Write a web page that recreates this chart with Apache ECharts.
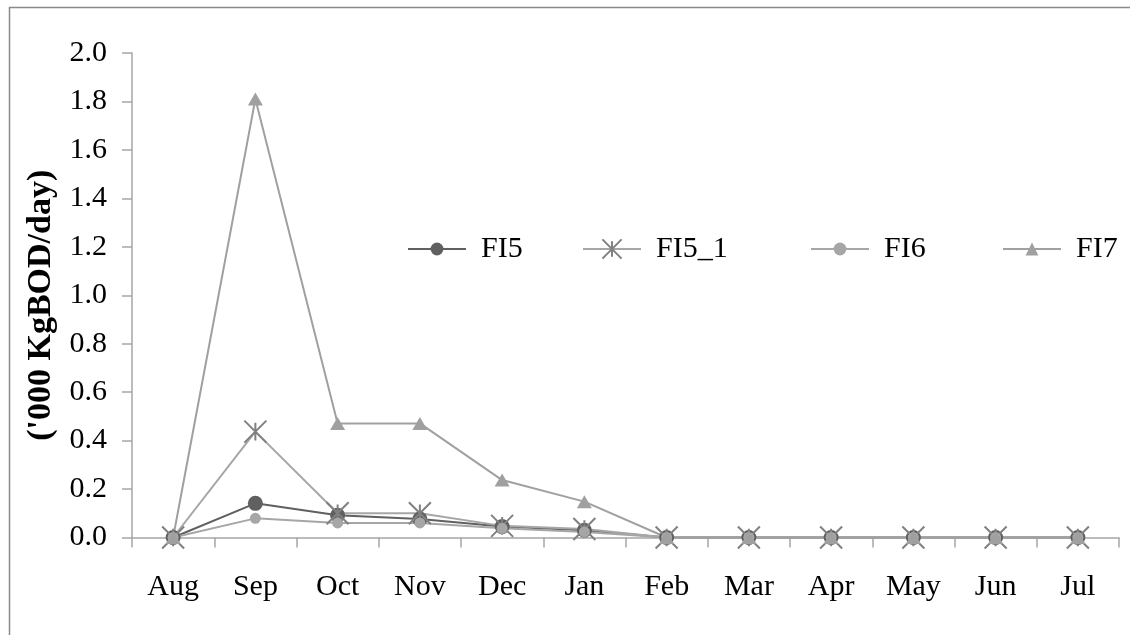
<!DOCTYPE html>
<html>
<head>
<meta charset="utf-8">
<script src="https://cdn.jsdelivr.net/npm/echarts@6/dist/echarts.min.js"></script>
<style>html,body{margin:0;padding:0;background:#fff;}#c{width:1130px;height:635px;}</style>
</head>
<body>
<div id="c"></div>
<script>
const categories = ['Aug','Sep','Oct','Nov','Dec','Jan','Feb','Mar','Apr','May','Jun','Jul'];
const FI5   = [0, 0.141, 0.092, 0.076, 0.045, 0.030, 0, 0, 0, 0, 0, 0];
const FI5_1 = [0, 0.437, 0.100, 0.100, 0.048, 0.035, 0, 0, 0, 0, 0, 0];
const FI6   = [0, 0.079, 0.060, 0.060, 0.038, 0.023, 0, 0, 0, 0, 0, 0];
const FI7   = [0, 1.810, 0.471, 0.471, 0.237, 0.148, 0, 0, 0, 0, 0, 0];
const seriesNames = ['FI5', 'FI5_1', 'FI6', 'FI7'];
const yTicks = { min: 0, max: 2, interval: 0.2 };
const yTitle = "('000 KgBOD/day)";

const FONT = "'Liberation Serif', 'Times New Roman', serif";
const legendLeft = [402, 577, 805, 997];
const legendItemH = [16, 24, 16, 16];

const chart = echarts.init(document.getElementById('c'), null, { renderer: 'canvas' });
chart.setOption({
  animation: false,
  backgroundColor: '#fff',
  graphic: [{
    type: 'rect', left: 7, top: 5, silent: true, z: -1,
    shape: { x: 0, y: 0, width: 1200, height: 700 },
    style: { fill: 'none', stroke: '#8a8a8a', lineWidth: 1.5 }
  }],
  textStyle: { fontFamily: FONT, color: '#000' },
  grid: { left: 132, right: 11, top: 53, bottom: 97.5, containLabel: false },
  legend: seriesNames.map((n, i) => ({
    left: legendLeft[i], top: 229, orient: 'horizontal',
    itemWidth: 58, itemHeight: legendItemH[i],
    textStyle: { fontFamily: FONT, fontSize: 30, color: '#000', padding: [0, 0, 0, 10] },
    data: [n]
  })),
  xAxis: {
    type: 'category', data: categories, boundaryGap: true,
    axisLine: { lineStyle: { color: '#a6a6a6', width: 1.5 } },
    axisTick: { show: true, alignWithLabel: false, length: 10, lineStyle: { color: '#a6a6a6', width: 1.5 } },
    axisLabel: { fontFamily: FONT, fontSize: 30, color: '#000', margin: 35 },
    splitLine: { show: false }
  },
  yAxis: {
    type: 'value', min: yTicks.min, max: yTicks.max, interval: yTicks.interval,
    name: yTitle, nameLocation: 'middle', nameRotate: 90, nameGap: 69,
    nameTextStyle: { fontFamily: FONT, fontSize: 34, fontWeight: 'bold', color: '#000',
      padding: [0, 20, 0, 0] },
    axisLine: { show: true, lineStyle: { color: '#a6a6a6', width: 1.5 } },
    axisTick: { show: true, length: 10, lineStyle: { color: '#a6a6a6', width: 1.5 } },
    axisLabel: { fontFamily: FONT, fontSize: 30, color: '#000', margin: 25,
      formatter: v => v.toFixed(1) },
    splitLine: { show: false }
  },
  series: [
    { name: 'FI5', type: 'line', data: FI5, symbol: 'circle', symbolSize: 15,
      lineStyle: { color: '#606060', width: 2 }, itemStyle: { color: '#606060' } },
    { name: 'FI5_1', type: 'line', data: FI5_1,
      symbol: 'path://M0,0L20,20M20,0L0,20M10,2L10,18', symbolSize: 22,
      lineStyle: { color: '#a6a6a6', width: 2 },
      itemStyle: { color: 'none', borderColor: '#808080', borderWidth: 2 } },
    { name: 'FI6', type: 'line', data: FI6, symbol: 'circle', symbolSize: 11,
      lineStyle: { color: '#a6a6a6', width: 2 }, itemStyle: { color: '#a6a6a6' } },
    { name: 'FI7', type: 'line', data: FI7, symbol: 'triangle', symbolSize: [15, 13],
      lineStyle: { color: '#a0a0a0', width: 2 }, itemStyle: { color: '#a0a0a0' } }
  ]
});
</script>
</body>
</html>
